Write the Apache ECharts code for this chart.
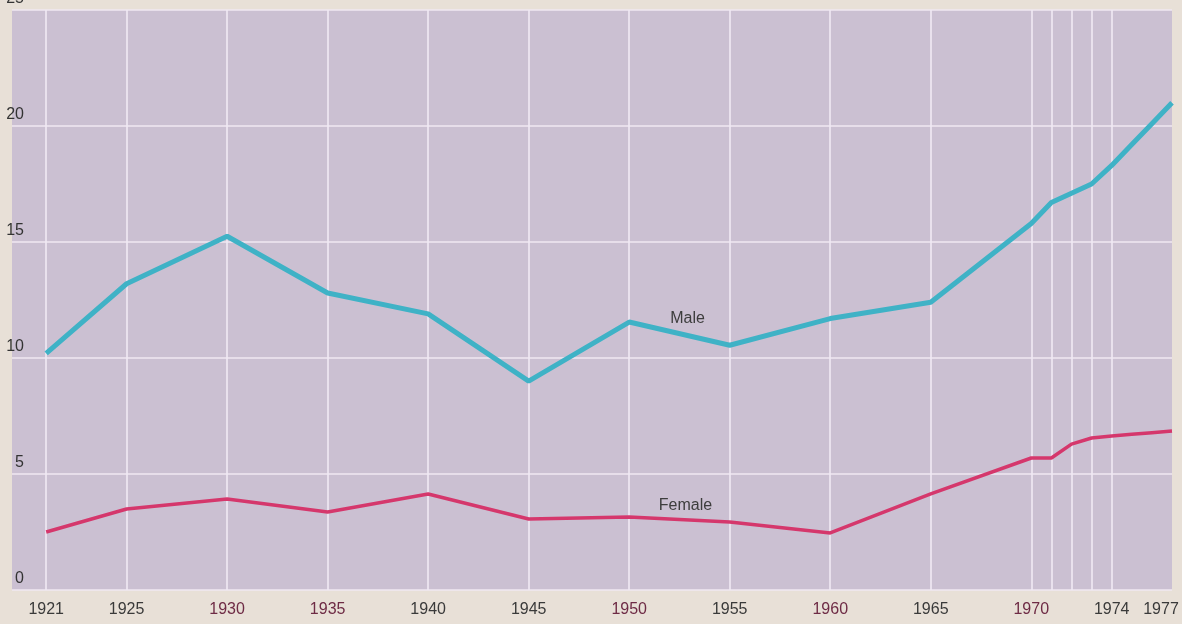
<!DOCTYPE html>
<html>
<head>
<meta charset="utf-8">
<script src="https://cdn.jsdelivr.net/npm/echarts@6/dist/echarts.min.js"></script>
<style>
  html, body { margin: 0; padding: 0; background: #e8e0d7; }
  #chart { width: 1182px; height: 624px; }
</style>
</head>
<body>
<div id="chart"></div>
<script>
// values
var years = [1921, 1925, 1930, 1935, 1940, 1945, 1950, 1955, 1960, 1965, 1970, 1971, 1972, 1973, 1974, 1975, 1976, 1977];
var male = [10.2, 13.2, 15.25, 12.8, 11.9, 9.0, 11.55, 10.55, 11.7, 12.4, 15.8, 16.7, 17.1, 17.5, 18.3, 19.2, 20.1, 21.0];
var female = [2.5, 3.49, 3.92, 3.36, 4.14, 3.06, 3.15, 2.93, 2.46, 4.14, 5.69, 5.69, 6.29, 6.55, 6.64, 6.71, 6.78, 6.85];
var gridYears = [1921, 1925, 1930, 1935, 1940, 1945, 1950, 1955, 1960, 1965, 1970, 1971, 1972, 1973, 1974];
var labelYears = [1921, 1925, 1930, 1935, 1940, 1945, 1950, 1955, 1960, 1965, 1970, 1974, 1977];
var redLabels = [1930, 1935, 1950, 1960, 1970];

function pairs(vals) {
    return years.map(function (y, i) { return [y, vals[i]]; });
}

var chart = echarts.init(document.getElementById('chart'));
var font = 'Liberation Sans, Arial, sans-serif';

var option = {
    backgroundColor: '#e8e0d7',
    animation: false,
    grid: {
        left: 12, right: 10, top: 10, bottom: 34,
        outerBoundsMode: 'none',
        containLabel: false,
        show: true, backgroundColor: '#cbc0d2', borderWidth: 0
    },
    xAxis: {
        type: 'value',
        min: 1919.3,
        max: 1977,
        axisLine: { show: false },
        axisTick: { show: false },
        splitLine: { show: false },
        axisLabel: {
            customValues: labelYears,
            margin: 12,
            fontFamily: font,
            fontSize: 16,
            color: '#3a3a3a',
            formatter: function (v) {
                if (v === 1977) return '{last|' + v + '}';
                if (redLabels.indexOf(v) >= 0) return '{red|' + v + '}';
                return '' + v;
            },
            rich: {
                red: { color: '#6e2b45', fontSize: 16, fontFamily: font },
                last: { color: '#3a3a3a', fontSize: 16, padding: [0, 22, 0, 0], fontFamily: font }
            }
        }
    },
    yAxis: {
        type: 'value',
        min: 0,
        max: 25,
        interval: 5,
        axisLine: { show: false },
        axisTick: { show: false },
        splitLine: { show: true, lineStyle: { color: 'rgba(240,232,242,0.75)', width: 2 } },
        axisLabel: {
            inside: true,
            margin: 12,
            align: 'right',
            verticalAlign: 'bottom',
            padding: [0, 0, 3, 0],
            fontFamily: font,
            fontSize: 16,
            color: '#333'
        }
    },
    series: [
        {
            name: 'Male',
            type: 'line',
            data: pairs(male),
            symbol: 'none',
            z: 3,
            lineStyle: { color: '#3fb2c6', width: 5 },
            markLine: {
                silent: true,
                symbol: 'none',
                label: { show: false },
                lineStyle: { color: 'rgba(240,232,244,0.8)', width: 2, type: 'solid' },
                data: gridYears.map(function (y) { return { xAxis: y }; }),
                z: 1
            },
            markPoint: {
                symbolSize: 0,
                data: [{ coord: [1952.9, 11.72] }],
                label: {
                    show: true, position: 'inside', formatter: 'Male',
                    fontFamily: font, fontSize: 16, color: '#3d3d3d'
                }
            }
        },
        {
            name: 'Female',
            type: 'line',
            data: pairs(female),
            symbol: 'none',
            z: 3,
            lineStyle: { color: '#d5376c', width: 3.5 },
            markPoint: {
                symbolSize: 0,
                data: [{ coord: [1952.8, 3.62] }],
                label: {
                    show: true, position: 'inside', formatter: 'Female',
                    fontFamily: font, fontSize: 16, color: '#3d3d3d'
                }
            }
        }
    ]
};

chart.setOption(option);
</script>
</body>
</html>
